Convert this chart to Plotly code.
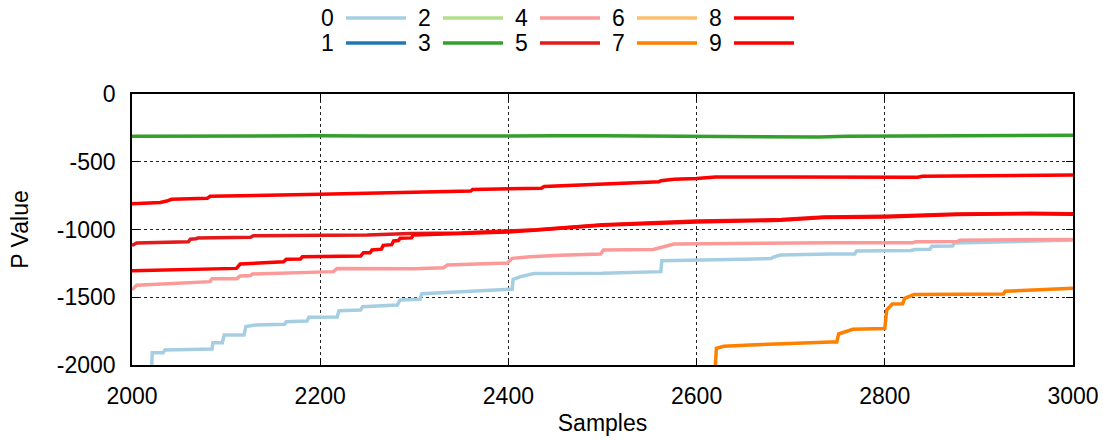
import plotly.graph_objects as go

# ---------------- data ----------------
series_names = ["0", "1", "2", "3", "4", "5", "6", "7", "8", "9"]
series_colors = ["#a6cee3", "#1f78b4", "#b2df8a", "#33a02c", "#fb9a99",
                 "#e31a1c", "#fdbf6f", "#ff7f00", "#ff0000", "#ff0000"]

x0 = [2021, 2021.5, 2033, 2035, 2085, 2086, 2096, 2098, 2119, 2121, 2131, 2162, 2164,
      2186, 2188, 2218, 2220, 2243, 2245, 2282, 2285, 2306, 2308, 2404, 2405, 2413,
      2427, 2500, 2562, 2563, 2650, 2679, 2681, 2689, 2743, 2768, 2770, 2828, 2832,
      2848, 2850, 2872, 2874, 2900, 3000]
y0 = [-2000, -1909, -1909, -1889, -1882, -1835, -1835, -1779, -1779, -1717, -1705, -1700, -1680,
      -1675, -1648, -1645, -1599, -1594, -1570, -1557, -1520, -1515, -1474, -1441, -1368, -1348,
      -1325, -1323, -1311, -1230, -1220, -1215, -1205, -1188, -1181, -1181, -1159, -1155, -1148,
      -1145, -1124, -1122, -1100, -1095, -1078]

x1, y1 = [], []
x2, y2 = [], []

x3 = [2000, 2050, 2100, 2150, 2200, 2250, 2300, 2350, 2400, 2450, 2500, 2550, 2600,
      2650, 2680, 2700, 2730, 2760, 2800, 2850, 2900, 2950, 3000]
y3 = [-312, -310, -311, -309, -308, -310, -311, -309, -310, -309, -308, -310, -310,
      -311, -316, -318, -317, -312, -311, -309, -305, -306, -305]

x4 = [2000, 2005, 2083, 2085, 2111, 2115, 2126, 2128, 2214, 2218, 2300, 2331, 2335,
      2399, 2404, 2423, 2455, 2498, 2501, 2554, 2570, 2576, 2743, 2830, 2833, 2877,
      2880, 3000]
y4 = [-1445, -1412, -1385, -1363, -1363, -1343, -1340, -1328, -1311, -1287, -1290, -1283, -1262,
      -1248, -1213, -1201, -1190, -1181, -1151, -1148, -1118, -1107, -1097, -1097, -1090, -1088,
      -1080, -1073]

x5 = [2000, 2005, 2060, 2062, 2068, 2070, 2126, 2129, 2250, 2296, 2350, 2400, 2430,
      2500, 2600, 2690, 2735, 2800, 2877, 2955, 3000]
y5 = [-1118, -1100, -1090, -1072, -1068, -1062, -1058, -1046, -1040, -1030, -1025, -1013, -1002,
      -965, -938, -927, -907, -902, -886, -880, -884]

x6, y6 = [], []

x7 = [2620, 2621, 2629, 2657, 2743, 2749, 2751, 2758, 2766, 2800, 2802, 2808, 2819,
      2821, 2831, 2926, 2928, 3000]
y7 = [-2000, -1877, -1862, -1852, -1830, -1830, -1771, -1754, -1736, -1731, -1594, -1550, -1548,
      -1508, -1480, -1476, -1456, -1434]

x8 = [2000, 2030, 2037, 2042, 2080, 2083, 2200, 2300, 2360, 2362, 2435, 2438, 2500,
      2560, 2562, 2576, 2600, 2620, 2700, 2800, 2835, 2840, 2900, 3000]
y8 = [-810, -800, -790, -777, -770, -755, -740, -725, -716, -704, -695, -682, -665,
      -648, -640, -630, -623, -612, -612, -615, -615, -607, -603, -598]

x9 = [2000, 2069, 2111, 2115, 2161, 2164, 2179, 2181, 2243, 2246, 2253, 2255, 2265,
      2267, 2276, 2278, 2283, 2285, 2297, 2299, 2349, 2399, 2427, 2498, 2600, 2689,
      2735, 2800, 2877, 2955, 3000]
y9 = [-1304, -1295, -1287, -1255, -1238, -1220, -1218, -1201, -1195, -1171, -1171, -1151, -1145,
      -1117, -1112, -1085, -1082, -1065, -1062, -1041, -1030, -1018, -1006, -969, -944, -932,
      -912, -907, -890, -883, -887]

xs = [x0, x1, x2, x3, x4, x5, x6, x7, x8, x9]
ys = [y0, y1, y2, y3, y4, y5, y6, y7, y8, y9]

x_ticks = [2000, 2200, 2400, 2600, 2800, 3000]
y_ticks = [0, -500, -1000, -1500, -2000]

# ---------------- layout constants ----------------
W, H = 1103, 441
L, R, T, B = 132, 1073, 94, 365
FONT = "Liberation Sans"
FS = 23

fig = go.Figure()
for name, color, xx, yy in zip(series_names, series_colors, xs, ys):
    fig.add_trace(go.Scatter(x=xx, y=yy, mode="lines", name=name,
                             line=dict(color=color, width=3.5), showlegend=False))


def px2paper(px, py):
    return (px - L) / (R - L), (B - py) / (B - T)


# custom legend: label left of the line sample, 5 columns x 2 rows
for i, (name, color) in enumerate(zip(series_names, series_colors)):
    col, row = i // 2, i % 2
    yy = 18 if row == 0 else 43
    lx = 336 + 97 * col
    sx0 = 346 + 97 * col
    sx1 = 406 + 97 * col
    ax, ay = px2paper(lx, yy)
    fig.add_annotation(x=ax, y=ay, xref="paper", yref="paper", text=name,
                       showarrow=False, xanchor="right", yanchor="middle",
                       font=dict(family=FONT, size=FS, color="black"))
    p0 = px2paper(sx0, yy)
    p1 = px2paper(sx1, yy)
    fig.add_shape(type="line", xref="paper", yref="paper",
                  x0=p0[0], y0=p0[1], x1=p1[0], y1=p1[1],
                  line=dict(color=color, width=3.5))

axis_common = dict(
    showgrid=True, gridcolor="#222222", gridwidth=1, griddash="dot",
    ticks="inside", ticklen=7, tickcolor="black", tickwidth=1,
    showline=True, linecolor="black", linewidth=1.5, mirror="ticks",
    zeroline=False, tickfont=dict(family=FONT, size=FS, color="black"),
    ticklabelstandoff=10, automargin=False,
)

fig.update_layout(
    width=W, height=H,
    margin=dict(l=L, r=W - R, t=T, b=H - B),
    paper_bgcolor="white", plot_bgcolor="white",
    font=dict(family=FONT, size=FS, color="black"),
    showlegend=False,
    xaxis=dict(range=[2000, 3000], tickvals=x_ticks, ticktext=[str(v) for v in x_ticks],
               title=dict(text="Samples", font=dict(family=FONT, size=FS), standoff=7),
               **axis_common),
    yaxis=dict(range=[-2000, 0], tickvals=y_ticks, ticktext=[str(v) for v in y_ticks],
               title=dict(text="P Value", font=dict(family=FONT, size=FS), standoff=22),
               **axis_common),
)

fig.write_html("out.html")
